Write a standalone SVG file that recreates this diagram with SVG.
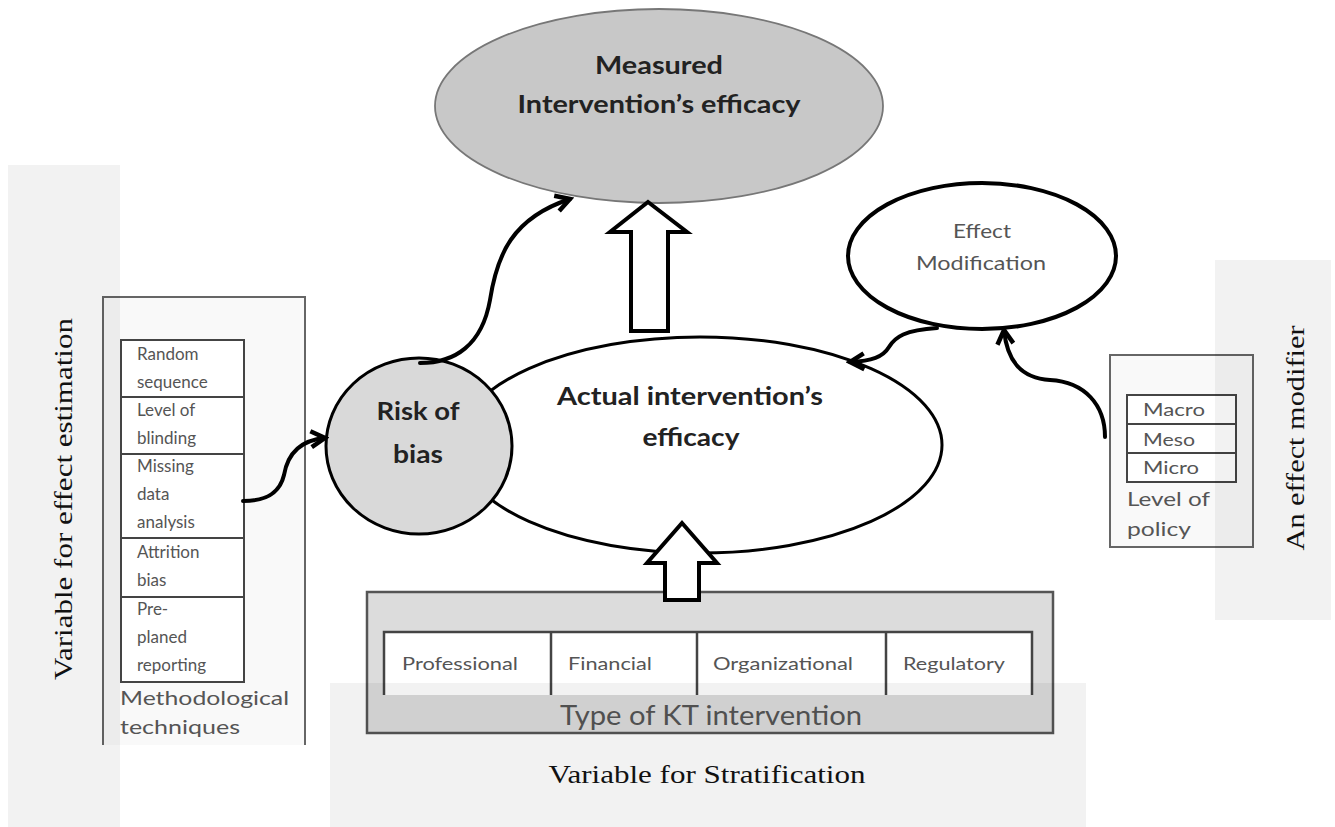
<svg xmlns="http://www.w3.org/2000/svg" width="1335" height="827" viewBox="0 0 1335 827">
<style>
.sans{font-family:Lato,"Open Sans","Liberation Sans",sans-serif}
.serif{font-family:"Liberation Serif","DejaVu Serif",serif;font-size:26px;fill:#111}
.bold{font-weight:bold;fill:#222}
.cell{font-family:Lato,"Open Sans","Liberation Sans",sans-serif;font-size:17px;fill:#555}
.lbl{font-family:Lato,"Open Sans","Liberation Sans",sans-serif;font-size:20px;fill:#555}
.box{fill:#f9f9f9;stroke:#666;stroke-width:2}
.tbl{fill:#fff;stroke:#444;stroke-width:2}
.curve{fill:none;stroke:#000;stroke-width:4;stroke-linecap:round}
.block{fill:#fff;stroke:#000;stroke-width:4;stroke-linejoin:miter}
.panel{fill:#000;fill-opacity:0.05}
</style>
<defs>
<marker id="chev" markerUnits="userSpaceOnUse" markerWidth="24" markerHeight="24" viewBox="0 0 24 24" refX="20" refY="12" orient="auto">
<path d="M6,4 L20,12 L6,20" fill="none" stroke="#000" stroke-width="4.5" stroke-linejoin="miter"/>
</marker>
</defs>
<rect width="1335" height="827" fill="#fff"/>

<g id="measured">
<ellipse cx="659" cy="106" rx="224" ry="97" fill="#c8c8c8" stroke="#777" stroke-width="1.8"/>
<text class="sans bold" x="659" y="74" font-size="24" text-anchor="middle" textLength="128" lengthAdjust="spacingAndGlyphs">Measured</text>
<text class="sans bold" x="659" y="113" font-size="24" text-anchor="middle" textLength="283" lengthAdjust="spacingAndGlyphs">Intervention’s efficacy</text>
</g>

<g id="actual">
<ellipse cx="700" cy="445" rx="242" ry="108" fill="#fff" stroke="#000" stroke-width="3"/>
<text class="sans bold" x="690" y="405" font-size="24" text-anchor="middle" fill="#333" textLength="266" lengthAdjust="spacingAndGlyphs">Actual intervention’s</text>
<text class="sans bold" x="691" y="446" font-size="24" text-anchor="middle" fill="#333" textLength="97" lengthAdjust="spacingAndGlyphs">efficacy</text>
</g>

<g id="risk">
<ellipse cx="419" cy="446" rx="93" ry="88" fill="#d9d9d9" stroke="#000" stroke-width="3"/>
<text class="sans bold" x="418" y="420" font-size="25" text-anchor="middle" textLength="83" lengthAdjust="spacingAndGlyphs">Risk of</text>
<text class="sans bold" x="418" y="463" font-size="25" text-anchor="middle" textLength="50" lengthAdjust="spacingAndGlyphs">bias</text>
</g>

<g id="effect-mod">
<ellipse cx="982" cy="256" rx="134" ry="73" fill="#fff" stroke="#000" stroke-width="4"/>
<text class="sans" x="982" y="238" font-size="19" fill="#555" text-anchor="middle" textLength="58" lengthAdjust="spacingAndGlyphs">Effect</text>
<text class="sans" x="981" y="270" font-size="19" fill="#555" text-anchor="middle" textLength="130" lengthAdjust="spacingAndGlyphs">Modification</text>
</g>

<g id="methodological">
<path class="box" d="M103,745 V297 H305 V745"/>
<rect class="tbl" x="121" y="340" width="123" height="342"/>
<line x1="121" y1="397" x2="244" y2="397" stroke="#444" stroke-width="2"/>
<line x1="121" y1="454" x2="244" y2="454" stroke="#444" stroke-width="2"/>
<line x1="121" y1="538" x2="244" y2="538" stroke="#444" stroke-width="2"/>
<line x1="121" y1="597" x2="244" y2="597" stroke="#444" stroke-width="2"/>
<text class="cell" x="137" y="360">Random</text>
<text class="cell" x="137" y="388">sequence</text>
<text class="cell" x="137" y="416">Level of</text>
<text class="cell" x="137" y="444">blinding</text>
<text class="cell" x="137" y="472">Missing</text>
<text class="cell" x="137" y="500">data</text>
<text class="cell" x="137" y="528">analysis</text>
<text class="cell" x="137" y="558">Attrition</text>
<text class="cell" x="137" y="586">bias</text>
<text class="cell" x="137" y="615">Pre-</text>
<text class="cell" x="137" y="643">planed</text>
<text class="cell" x="137" y="671">reporting</text>
<text class="lbl" x="120" y="705" textLength="169" lengthAdjust="spacingAndGlyphs">Methodological</text>
<text class="lbl" x="120" y="734" textLength="120" lengthAdjust="spacingAndGlyphs">techniques</text>
</g>

<g id="policy">
<rect class="box" x="1110" y="355" width="143" height="192"/>
<rect class="tbl" x="1127" y="395" width="109" height="87"/>
<line x1="1127" y1="424" x2="1236" y2="424" stroke="#444" stroke-width="2"/>
<line x1="1127" y1="453" x2="1236" y2="453" stroke="#444" stroke-width="2"/>
<text class="cell" x="1143" y="416" textLength="62" lengthAdjust="spacingAndGlyphs">Macro</text>
<text class="cell" x="1143" y="446" textLength="52" lengthAdjust="spacingAndGlyphs">Meso</text>
<text class="cell" x="1143" y="474" textLength="56" lengthAdjust="spacingAndGlyphs">Micro</text>
<text class="lbl" x="1127" y="506" textLength="83" lengthAdjust="spacingAndGlyphs">Level of</text>
<text class="lbl" x="1127" y="536" textLength="64" lengthAdjust="spacingAndGlyphs">policy</text>
</g>

<g id="kt-type">
<rect x="367" y="592" width="686" height="141" fill="#dcdcdc" stroke="#555" stroke-width="2.5"/>
<path d="M384,695 V632 H1032 V695 Z" fill="#fff" stroke="none"/>
<path d="M384,695 V632 H1032 V695 M551,632 V695 M697,632 V695 M886,632 V695" fill="none" stroke="#444" stroke-width="2.5"/>
<text class="cell" x="460" y="670" text-anchor="middle" textLength="116" lengthAdjust="spacingAndGlyphs">Professional</text>
<text class="cell" x="610" y="670" text-anchor="middle" textLength="84" lengthAdjust="spacingAndGlyphs">Financial</text>
<text class="cell" x="783" y="670" text-anchor="middle" textLength="140" lengthAdjust="spacingAndGlyphs">Organizational</text>
<text class="cell" x="954" y="670" text-anchor="middle" textLength="102" lengthAdjust="spacingAndGlyphs">Regulatory</text>
<text class="sans" x="711" y="725" font-size="27" fill="#555" text-anchor="middle" textLength="302" lengthAdjust="spacingAndGlyphs">Type of KT intervention</text>
</g>

<g id="connectors">
<path class="block" d="M648,202 L687,232 L668,232 L668,331 L631,331 L631,232 L610,232 Z"/>
<path class="block" d="M682,523 L717,563 L699,563 L699,600 L665,600 L665,563 L647,563 Z"/>
<path class="curve" d="M243,501 C268,501 280,492 284,475 C288,452 302,440 325,438" marker-end="url(#chev)"/>
<path class="curve" d="M420,363 C455,363 482,345 490,300 C497,255 512,218 570,199" marker-end="url(#chev)"/>
<path class="curve" d="M937,328 C905,330 895,337 889,347 C883,357 872,361 850,362" marker-end="url(#chev)"/>
<path class="curve" d="M1105,437 C1105,405 1085,382 1050,380 C1020,378 1007,360 1004,330" marker-end="url(#chev)"/>
</g>

<g id="panels">
<rect class="panel" x="8" y="165" width="112" height="662"/>
<rect class="panel" x="330" y="683" width="756" height="144"/>
<rect class="panel" x="1215" y="260" width="116" height="360"/>
</g>

<g id="group-labels">
<text class="serif" transform="translate(72,499) rotate(-90)" text-anchor="middle" textLength="362" lengthAdjust="spacingAndGlyphs">Variable for effect estimation</text>
<text class="serif" transform="translate(1304,438) rotate(-90)" text-anchor="middle" textLength="225" lengthAdjust="spacingAndGlyphs">An effect modifier</text>
<text class="serif" x="707" y="783" text-anchor="middle" textLength="317" lengthAdjust="spacingAndGlyphs">Variable for Stratification</text>
</g>
</svg>
